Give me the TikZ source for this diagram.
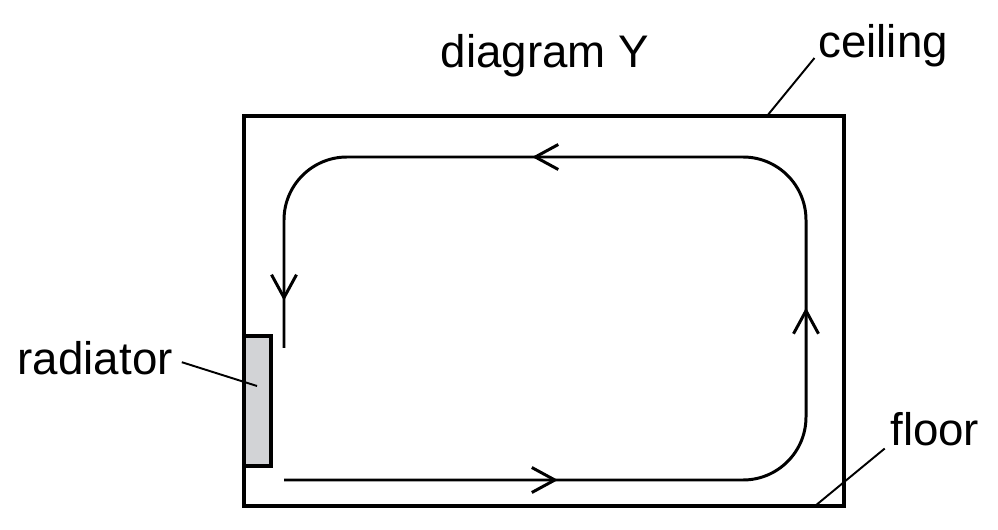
\documentclass[tikz,border=0pt]{standalone}
\usepackage{fontspec}
\setmainfont{Liberation Sans}
\usetikzlibrary{arrows.meta,decorations.markings}
\definecolor{radgrey}{RGB}{210,211,214}
\tikzset{
  tag/.style={font=\fontsize{26}{31}\selectfont,inner sep=0pt},
  wall/.style={line width=1.8pt},
  pointer/.style={line width=1.1pt},
  barb/.tip={Straight Barb[length=0.46cm,width=0.5cm]},
}
\begin{document}
\begin{tikzpicture}[x=0.02cm,y=-0.02cm]
  \useasboundingbox (0,0) rectangle (998,530);
  % room and radiator
  \draw[wall] (244,116) rectangle (844,506);
  \draw[wall,fill=radgrey] (244,336) rectangle (271,466);
  % labels
  \node[tag,anchor=base] (title) at (545,68) {diagram Y};
  \node[tag,anchor=base west] (ceiling) at (818,58) {ceiling};
  \node[tag,anchor=base west] (floor) at (890,445) {floor};
  \node[tag,anchor=base east] (radiator) at (173,375) {radiator};
  \coordinate (ceilpt) at (767,116);
  \coordinate (floorpt) at (815,506);
  \coordinate (radpt) at (257,386);
  \draw[pointer] ([xshift=-2pt]ceiling.base west) -- (ceilpt);
  \draw[pointer] ([xshift=-3pt,yshift=-2pt]floor.base west) -- (floorpt);
  \draw[pointer] ([xshift=5pt,yshift=-2pt]radiator.east) -- (radpt);
  % convection loop
  \coordinate (start) at (284,480);
  \coordinate (finish) at (284,348);
  \draw[line width=1.7pt,rounded corners=1.26cm,
    postaction={decorate},
    decoration={markings,
      mark=at position 5.48cm with {\arrow{barb}},
      mark=at position 13.35cm with {\arrow{barb}},
      mark=at position 21.3cm with {\arrow{barb}},
      mark=at position 28.6cm with {\arrow{barb}}}]
    (start) -- (806,480) -- (806,157) -- (284,157) -- (finish);
\end{tikzpicture}
\end{document}
